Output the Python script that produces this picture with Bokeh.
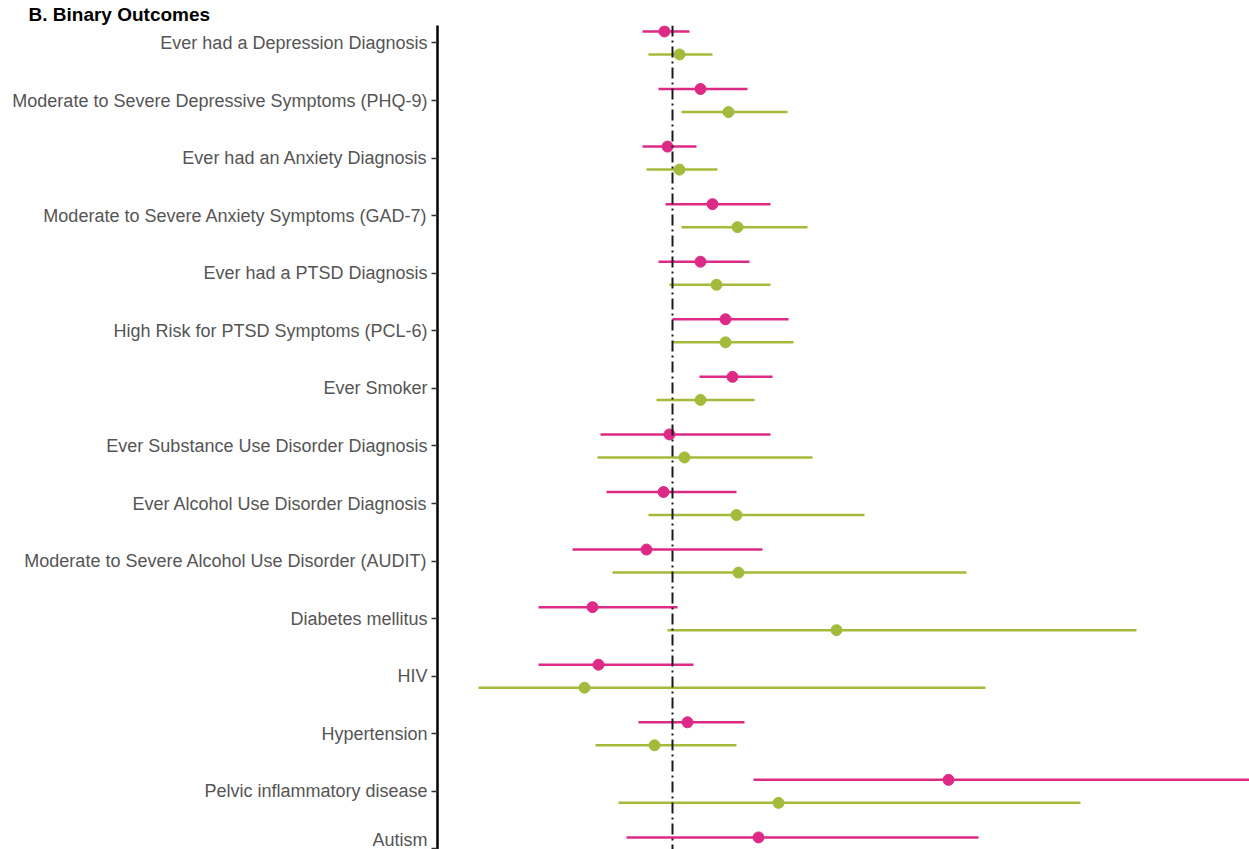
from bokeh.plotting import figure
from bokeh.models import ColumnDataSource, Range1d, FixedTicker, Span, Title
from bokeh.embed import file_html
from bokeh.resources import INLINE

# ---------------- data (log odds ratio estimates) ----------------
categories = [
    "Ever had a Depression Diagnosis",
    "Moderate to Severe Depressive Symptoms (PHQ-9)",
    "Ever had an Anxiety Diagnosis",
    "Moderate to Severe Anxiety Symptoms (GAD-7)",
    "Ever had a PTSD Diagnosis",
    "High Risk for PTSD Symptoms (PCL-6)",
    "Ever Smoker",
    "Ever Substance Use Disorder Diagnosis",
    "Ever Alcohol Use Disorder Diagnosis",
    "Moderate to Severe Alcohol Use Disorder (AUDIT)",
    "Diabetes mellitus",
    "HIV",
    "Hypertension",
    "Pelvic inflammatory disease",
    "Autism",
]

pink_est = [-0.04, 0.14, -0.025, 0.20, 0.14, 0.265, 0.30, -0.015, -0.045, -0.13, -0.40, -0.37, 0.075, 1.38, 0.43]
pink_lo  = [-0.15, -0.07, -0.15, -0.035, -0.07, 0.0, 0.135, -0.36, -0.33, -0.50, -0.67, -0.67, -0.17, 0.405, -0.23]
pink_hi  = [0.085, 0.375, 0.12, 0.49, 0.385, 0.58, 0.50, 0.49, 0.32, 0.45, 0.025, 0.105, 0.36, 3.2, 1.53]

green_est = [0.035, 0.28, 0.035, 0.325, 0.22, 0.265, 0.14, 0.06, 0.32, 0.33, 0.82, -0.44, -0.09, 0.53]
green_lo  = [-0.12, 0.045, -0.13, 0.045, -0.015, 0.0, -0.08, -0.375, -0.12, -0.30, -0.025, -0.97, -0.385, -0.27]
green_hi  = [0.20, 0.575, 0.225, 0.675, 0.49, 0.605, 0.41, 0.70, 0.96, 1.47, 2.32, 1.565, 0.32, 2.04]

PINK = "#de2a87"
GREEN = "#a3bb3a"

# ---------------- figure ----------------
p = figure(
    width=1249, height=849,
    output_backend="svg", toolbar_location=None,
    x_range=Range1d(-1.175, 2.885),
    y_range=Range1d(14.01, -0.303),
    x_axis_location=None,
    min_border_left=437, min_border_right=0, min_border_top=0, min_border_bottom=0,
)
p.outline_line_color = None
p.xgrid.visible = False
p.ygrid.visible = False
p.background_fill_color = "white"

title = Title(text="B. Binary Outcomes", align="left", offset=-409, standoff=2,
              text_font="Liberation Sans", text_font_style="bold",
              text_font_size="19px", text_color="black")
p.add_layout(title, "above")

off = 0.2
pink_src = ColumnDataSource(dict(
    y=[i - off for i in range(len(pink_est))], est=pink_est, lo=pink_lo, hi=pink_hi))
green_src = ColumnDataSource(dict(
    y=[i + off for i in range(len(green_est))], est=green_est, lo=green_lo, hi=green_hi))

for src, col in ((pink_src, PINK), (green_src, GREEN)):
    p.segment(x0="lo", x1="hi", y0="y", y1="y", source=src, line_color=col, line_width=2.5)
    p.scatter(x="est", y="y", source=src, size=11, fill_color=col, line_color=col)

ref = Span(location=0, dimension="height", line_color="#1a1a1a", line_width=2,
           line_dash="11 4 2 4")
p.add_layout(ref)

ax = p.yaxis[0]
ax.ticker = FixedTicker(ticks=list(range(len(categories))))
ax.major_label_overrides = {i: c for i, c in enumerate(categories)}
ax.minor_tick_line_color = None
ax.major_tick_in = 0
ax.major_tick_out = 6
ax.major_tick_line_color = "#333333"
ax.major_tick_line_width = 1.5
ax.axis_line_color = "black"
ax.axis_line_width = 2.5
ax.major_label_standoff = 4
ax.major_label_text_font = "Liberation Sans"
ax.major_label_text_font_size = "18px"
ax.major_label_text_color = "#555555"

open("out.html", "w").write(file_html(p, INLINE))
